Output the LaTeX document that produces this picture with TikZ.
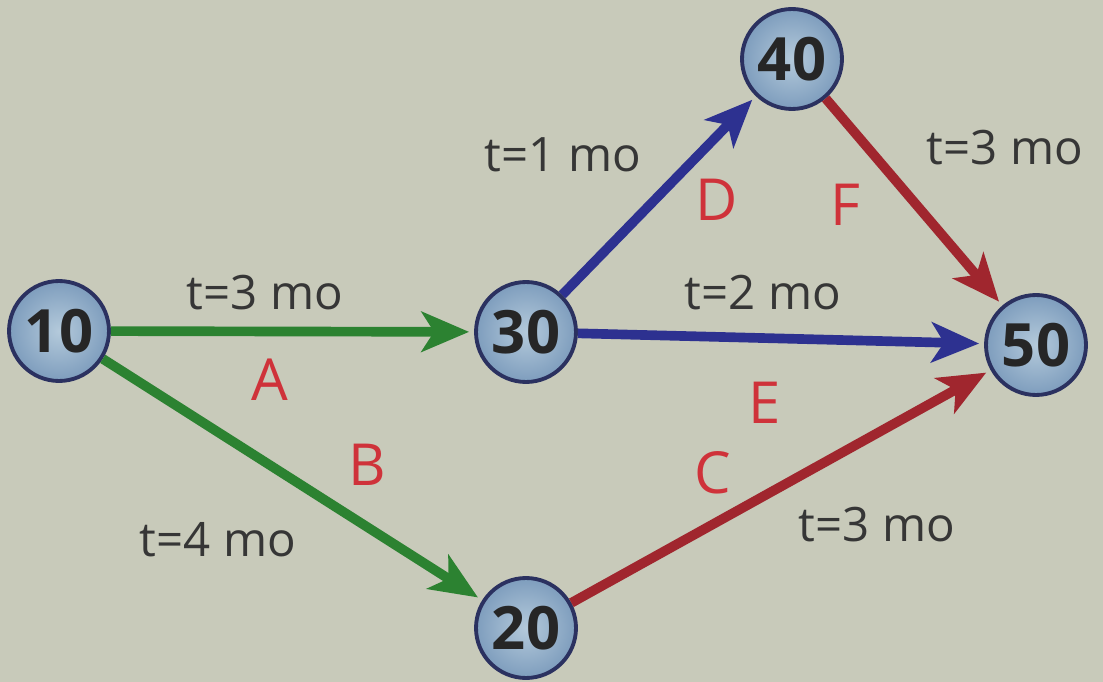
\documentclass[tikz,border=0pt]{standalone}
\usepackage{fontspec}
\setmainfont{Open Sans}
\usepackage{xcolor}
\usetikzlibrary{arrows.meta, positioning}

\definecolor{bgcol}{HTML}{C8CABA}
\definecolor{ringcol}{HTML}{2B3160}
\definecolor{ballin}{HTML}{B4CADB}
\definecolor{ballout}{HTML}{7E9DBD}
\definecolor{greenarc}{HTML}{2C8231}
\definecolor{bluearc}{HTML}{2D3190}
\definecolor{redarc}{HTML}{A0262E}
\definecolor{lettercol}{HTML}{CF323A}
\definecolor{textcol}{HTML}{363636}

\begin{document}
\begin{tikzpicture}[
    x=0.02cm, y=-0.02cm,
    event/.style={circle, draw=ringcol, line width=2.2pt, inner color=ballin, outer color=ballout,
        minimum size=2cm, inner sep=0pt, text=black!85, font=\fontsize{34}{34}\selectfont\bfseries},
    arc/.style={-{Stealth[length=0.95cm, width=0.8cm, inset=0.25cm]}, line width=5.5pt, shorten >=0.1cm},
    dur/.style={text=textcol, font=\fontsize{27}{27}\selectfont},
    act/.style={text=lettercol, font=\fontsize{33}{33}\selectfont}
]
    % Background
    \fill[bgcol] (0,0) rectangle (1103,682);

    % Events
    \node[event] (e10) at (59,331) {10};
    \node[event] (e30) at (526,332) {30};
    \node[event] (e40) at (792,59) {40};
    \node[event] (e50) at (1036,345) {50};
    \node[event] (e20) at (526,628) {20};

    % Activities
    \draw[arc, greenarc] (e10) -- (e30);
    \draw[arc, greenarc] (e10) -- (e20);
    \draw[arc, bluearc] (e30) -- (e40);
    \draw[arc, bluearc] (e30) -- (e50);
    \draw[arc, redarc] (e40) -- (e50);
    \draw[arc, redarc] (e20) -- (e50);

    % Durations
    \node[dur] (tA) at (265,293) {t=3 mo};
    \node[dur] (tB) at (218,540) {t=4 mo};
    \node[dur] (tD) at (563,155) {t=1 mo};
    \node[dur] (tE) at (763,293) {t=2 mo};
    \node[dur] (tF) at (1005,148) {t=3 mo};
    \node[dur] (tC) at (877,525) {t=3 mo};

    % Activity letters
    \node[act] (lA) at (270,380) {A};
    \node[act] (lB) at (367,465) {B};
    \node[act] (lC) at (713,473) {C};
    \node[act] (lD) at (717,200) {D};
    \node[act] (lE) at (765,403) {E};
    \node[act] (lF) at (845,205) {F};
\end{tikzpicture}
\end{document}
